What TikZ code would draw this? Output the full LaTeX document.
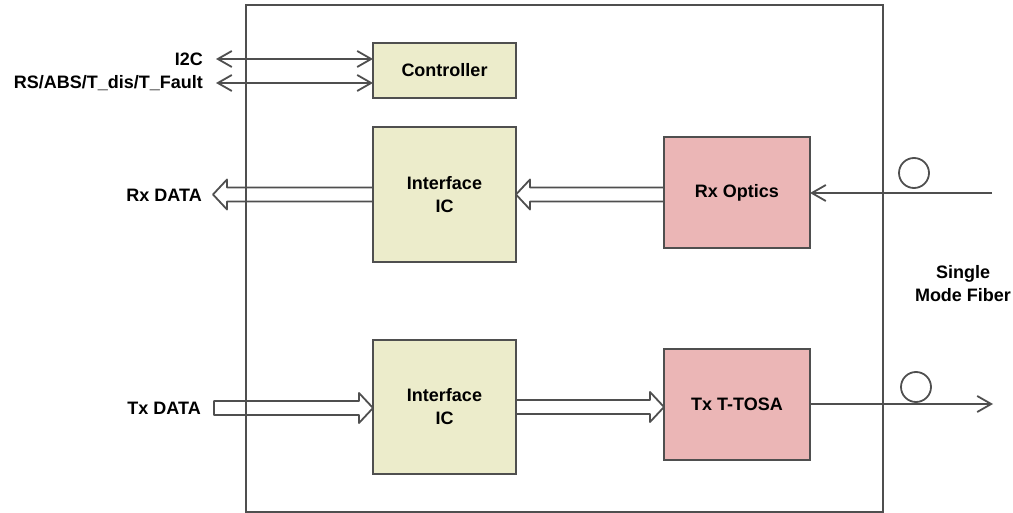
\documentclass[tikz,border=0pt]{standalone}
\usepackage{fontspec}
\setmainfont{Liberation Sans}
\usetikzlibrary{positioning, calc, arrows.meta}
\definecolor{wire}{HTML}{4F4F4F}
\definecolor{icfill}{HTML}{ECECCB}
\definecolor{optfill}{HTML}{EBB6B6}
\tikzset{block/.style={draw=wire, line width=1.8pt, rectangle, inner sep=0pt, outer sep=0pt,
           align=center, font=\bfseries\fontsize{18}{23}\selectfont},
         ic/.style={block, fill=icfill, minimum width=143pt},
         optic/.style={block, fill=optfill, minimum width=146pt, minimum height=111pt},
         lbl/.style={inner sep=0pt, align=center, font=\bfseries\fontsize{18}{23}\selectfont},
         sig/.style={draw=wire, line width=1.8pt, {Straight Barb[length=14pt,width=16pt]}-{Straight Barb[length=14pt,width=16pt]}},
         fiberline/.style={draw=wire, line width=1.8pt, -{Straight Barb[length=14pt,width=16pt]}},
         % hollow block arrow for the parallel data paths
         fat/.style={draw=wire, line width=1.8pt, line join=round,
           to path={let \p1=(\tikztostart), \p2=(\tikztotarget),
                        \p3=($(\p2)!14pt!(\p1)$) in
             (\x1,\y1+7pt) -- (\x3,\y1+7pt) -- (\x3,\y1+15pt) -- (\x2,\y1)
             -- (\x3,\y1-15pt) -- (\x3,\y1-7pt) -- (\x1,\y1-7pt) -- cycle}},
         ring/.style={draw=wire, line width=1.8pt, circle, minimum size=30pt, inner sep=0pt}}
\begin{document}
\begin{tikzpicture}[x=1pt, y=-1pt]
    \useasboundingbox (0,0) rectangle (1013,513);
    \node[draw=wire, line width=1.8pt, minimum width=637pt, minimum height=507pt] (frame) at (564.5,258.5) {};

    \node[ic, minimum height=55pt] (ctrl) at (444.5,70.5) {Controller};
    \node[ic, minimum height=135pt, below=29pt of ctrl] (ifrx) {Interface\\IC};
    \node[ic, minimum height=134pt, below=78pt of ifrx] (iftx) {Interface\\IC};
    \node[optic, right=148pt of ifrx, yshift=2pt] (rxopt) {Rx Optics};
    \node[optic, right=148pt of iftx, yshift=2.5pt] (txtosa) {Tx T-TOSA};

    \node[lbl, anchor=east] (i2c) at (203,59) {I2C};
    \node[lbl, anchor=east] (rsabs) at (203,83) {RS/ABS/T\_dis/T\_Fault};
    \node[lbl, anchor=east] (rxdata) at (202,195) {Rx DATA};
    \node[lbl, anchor=east] (txdata) at (201,408) {Tx DATA};
    \node[lbl] (fiber) at (963,284) {Single\\Mode Fiber};

    \node[ring] (rxring) at (914,173) {};
    \node[ring] (txring) at (916,387) {};
    \coordinate (rxin) at (992,193);
    \coordinate (txout) at (993,404);

    % control lines
    \draw[sig] ([xshift=13pt]i2c.east) -- (i2c.east -| ctrl.west);
    \draw[sig] ([xshift=13pt]rsabs.east) -- (rsabs.east -| ctrl.west);

    % data paths
    \draw[fat] (ifrx.west) to ([xshift=11pt]rxdata.east);
    \draw[fat] (ifrx.east -| rxopt.west) to (ifrx.east);
    \draw[fat] ([xshift=13pt]txdata.east) to (iftx.west);
    \draw[fat] (iftx.east) to (iftx.east -| txtosa.west);

    % fiber
    \draw[fiberline] (rxin) -- (rxin -| rxopt.east);
    \draw[fiberline] (txout -| txtosa.east) -- (txout);
\end{tikzpicture}
\end{document}
